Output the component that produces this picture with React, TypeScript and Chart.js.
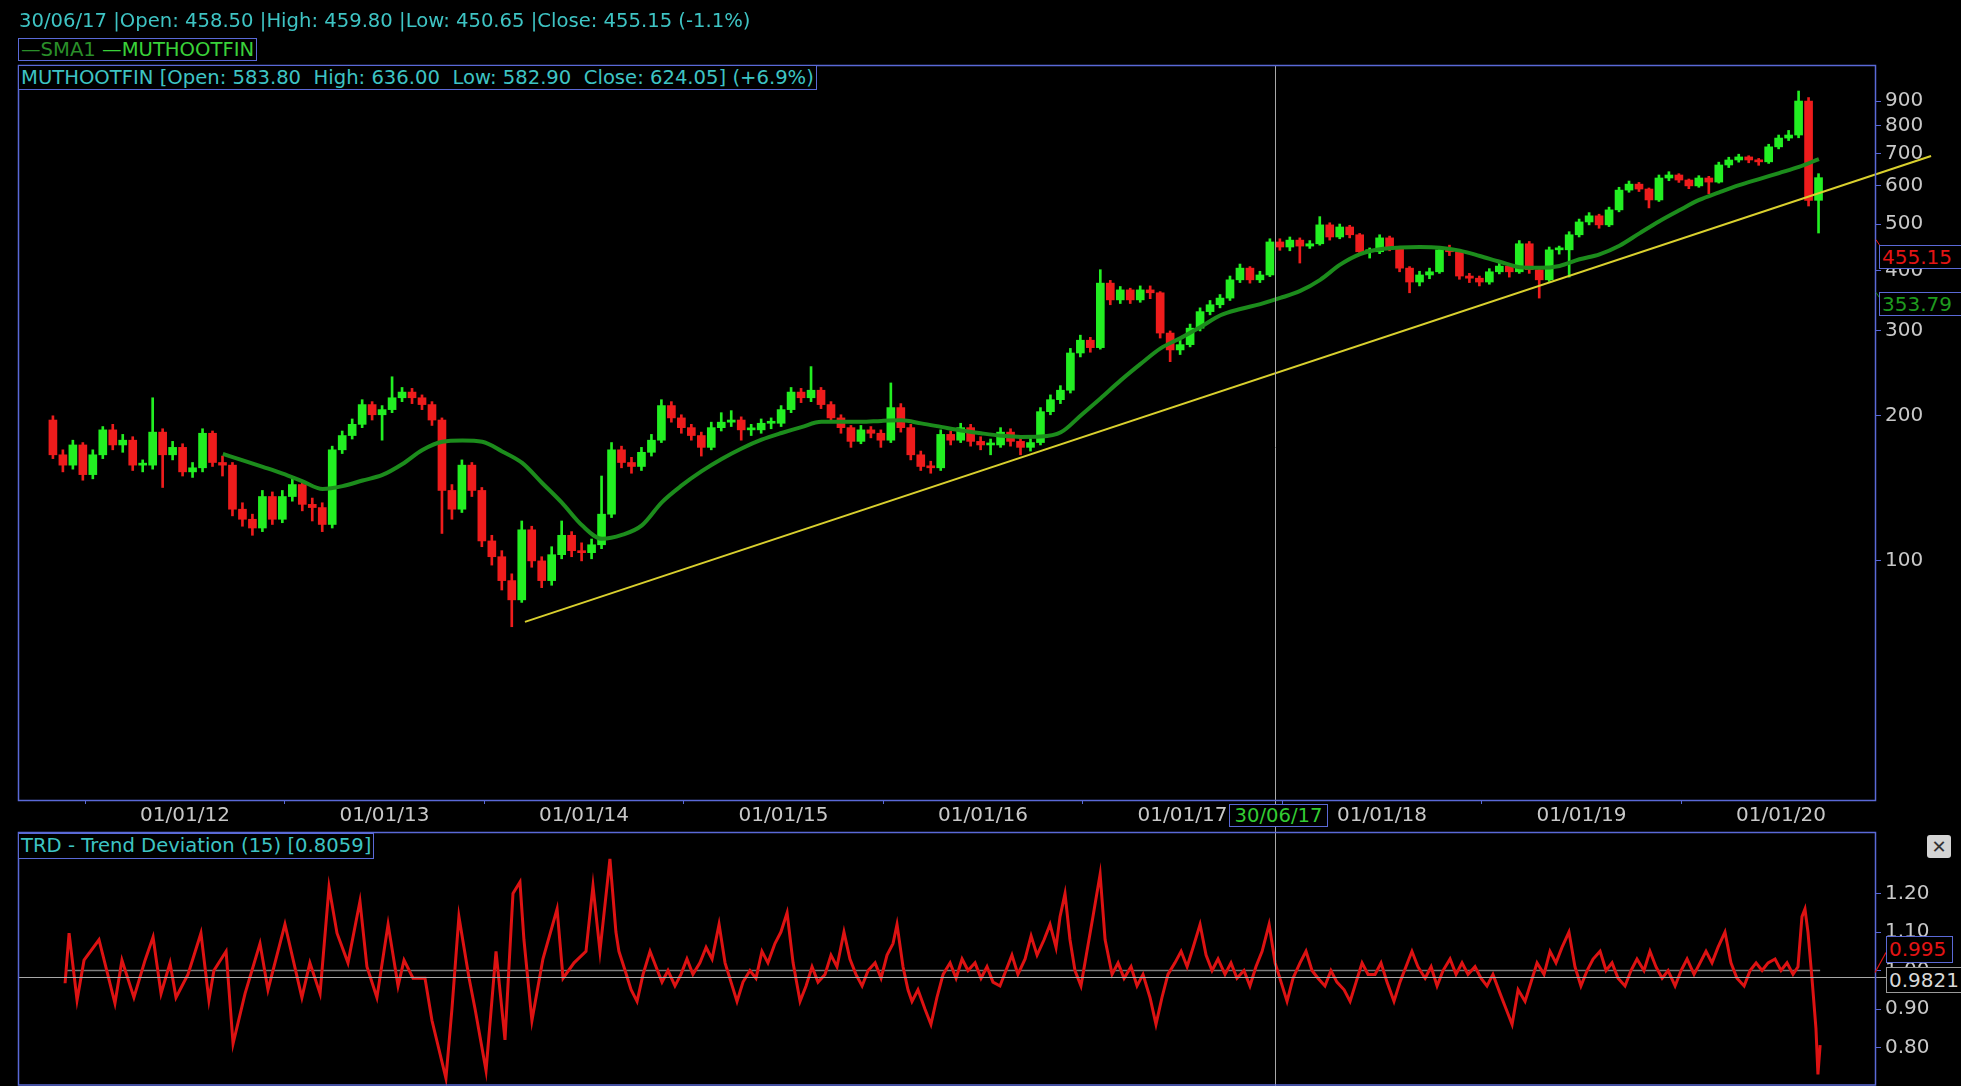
import React, { useEffect, useRef } from 'react';
import { Chart, registerables } from 'chart.js';

Chart.register(...registerables);

const W = 1961;
const H = 1086;
const MAIN_H = 830;
const FONT = '"DejaVu Sans", Verdana, sans-serif';
const BORDER = '#5a69d6';
const CYAN = '#3ec4c4';
const AXIS_TXT = '#c8c8c8';
const UP = '#22ee22';
const DOWN = '#ee1c1c';
const SMA_COLOR = '#1c8c1c';
const TREND_COLOR = '#d9d02e';
const TRD_COLOR = '#dd1212';
const CROSS = '#a8a8a8';

// ---------------- data ----------------
const HEADER_TEXT = '30/06/17 |Open: 458.50 |High: 459.80 |Low: 450.65 |Close: 455.15 (-1.1%)';
const TITLE_TEXT = 'MUTHOOTFIN [Open: 583.80  High: 636.00  Low: 582.90  Close: 624.05] (+6.9%)';
const TRD_TITLE = 'TRD - Trend Deviation (15) [0.8059]';
const CROSS_LABEL = '30/06/17';

const CANDLE_START = 2011.338; // decimal year of first candle
const CANDLE_STEP = 0.05; // half-month-ish sampling

const OPEN = [
  196, 166, 158, 174, 151, 166, 187, 174, 178, 158,
  158, 185, 166, 172, 153, 156, 184, 160, 158, 128,
  122, 117, 136, 122, 136, 144, 131, 129, 119, 170,
  182, 192, 211, 201, 206, 218, 224, 218, 211, 196,
  140, 128, 158, 140, 110, 102, 91, 83, 116, 100,
  91, 103, 113, 105, 104, 108, 125, 170, 160, 157,
  168, 178, 210, 198, 189, 182, 172, 189, 194, 196,
  187, 187, 193, 193, 206, 224, 218, 226, 211, 198,
  189, 177, 187, 184, 178, 208, 189, 166, 157, 156,
  183, 178, 189, 177, 174, 174, 185, 177, 172, 176,
  204, 216, 226, 270, 287, 277, 377, 348, 365, 348,
  365, 360, 297, 274, 281, 304, 329, 340, 351, 383,
  405, 383, 392, 459, 448, 463, 450, 455, 498, 470,
  493, 475, 438, 438, 468, 446, 405, 379, 392, 398,
  442, 438, 390, 386, 379, 398, 409, 398, 455, 402,
  383, 442, 442, 475, 505, 520, 498, 535, 588, 605,
  591, 561, 623, 632, 617, 600, 623, 611, 663, 679,
  689, 679, 673, 723, 754, 765, 900, 560,
];
const HIGH = [
  200, 170, 178, 176, 170, 190, 192, 183, 181, 162,
  218, 188, 177, 175, 160, 188, 186, 165, 160, 132,
  125, 140, 139, 140, 149, 146, 135, 132, 173, 186,
  197, 216, 214, 210, 241, 229, 228, 221, 214, 198,
  144, 162, 160, 142, 113, 105, 94, 121, 118, 102,
  107, 121, 115, 109, 111, 150, 176, 173, 164, 172,
  183, 216, 214, 201, 192, 185, 194, 203, 205, 199,
  192, 197, 198, 210, 229, 228, 253, 229, 214, 201,
  191, 191, 190, 187, 234, 212, 192, 169, 161, 187,
  186, 193, 192, 181, 179, 189, 188, 180, 180, 208,
  221, 231, 276, 294, 291, 402, 382, 371, 368, 372,
  372, 362, 300, 287, 310, 335, 347, 357, 390, 413,
  408, 399, 466, 466, 470, 468, 462, 518, 503, 500,
  497, 478, 446, 475, 472, 449, 408, 399, 405, 448,
  452, 441, 395, 390, 404, 416, 412, 462, 460, 405,
  448, 450, 482, 512, 528, 524, 542, 596, 614, 610,
  594, 632, 642, 636, 620, 630, 628, 672, 688, 698,
  693, 684, 732, 765, 782, 944, 915, 636,
];
const LOW = [
  163, 153, 155, 147, 148, 163, 170, 168, 154, 153,
  155, 142, 162, 150, 149, 153, 157, 150, 124, 118,
  113, 115, 119, 120, 133, 127, 121, 115, 117, 167,
  179, 189, 196, 178, 203, 214, 212, 206, 191, 114,
  122, 126, 136, 107, 98, 87, 73, 82, 97, 88,
  89, 101, 102, 100, 101, 106, 123, 156, 152, 154,
  165, 176, 194, 184, 178, 165, 170, 186, 190, 178,
  182, 184, 188, 190, 203, 213, 214, 207, 194, 184,
  172, 175, 180, 172, 176, 185, 162, 154, 152, 154,
  174, 176, 173, 170, 166, 172, 173, 166, 169, 174,
  201, 212, 223, 265, 271, 275, 340, 342, 342, 344,
  350, 290, 259, 268, 278, 300, 324, 335, 347, 378,
  377, 378, 389, 441, 440, 415, 445, 452, 463, 466,
  468, 430, 425, 434, 440, 398, 360, 372, 385, 395,
  430, 384, 378, 372, 375, 394, 388, 395, 395, 351,
  380, 433, 388, 470, 498, 490, 494, 530, 582, 584,
  540, 557, 615, 610, 592, 596, 578, 608, 655, 672,
  670, 662, 668, 716, 745, 755, 545, 479,
];
const CLOSE = [
  166, 158, 174, 151, 166, 187, 174, 178, 158, 158,
  185, 166, 172, 153, 156, 184, 160, 158, 128, 122,
  117, 136, 122, 136, 144, 131, 129, 119, 170, 182,
  192, 211, 201, 206, 218, 224, 218, 211, 196, 140,
  128, 158, 140, 110, 102, 91, 83, 116, 100, 91,
  103, 113, 105, 104, 108, 125, 170, 160, 157, 168,
  178, 210, 198, 189, 182, 172, 189, 194, 196, 187,
  187, 193, 193, 206, 224, 218, 226, 211, 198, 189,
  177, 187, 184, 178, 208, 189, 166, 157, 156, 183,
  178, 189, 177, 174, 174, 185, 177, 172, 176, 204,
  216, 226, 270, 287, 277, 377, 348, 365, 348, 365,
  360, 297, 274, 281, 304, 329, 340, 351, 383, 405,
  383, 392, 459, 448, 463, 450, 455, 498, 470, 493,
  475, 438, 438, 468, 446, 405, 379, 392, 398, 442,
  438, 390, 386, 379, 398, 409, 398, 455, 402, 383,
  442, 442, 475, 505, 520, 498, 535, 588, 605, 591,
  561, 623, 632, 617, 600, 623, 611, 663, 679, 689,
  679, 673, 723, 754, 765, 900, 560, 624,
];

const SMA_START = 2012.19;
const SMA_STEP = 0.1;
const SMA1 = [
  166.7, 161.7, 156.7, 151.7, 146.2, 141.0, 142.9, 146.8, 150.8, 158.9,
  169.9, 176.7, 177.7, 176.7, 168.7, 159.7, 145.1, 131.9, 118.5, 111.1,
  113.2, 118.5, 132.3, 143.4, 153.5, 162.7, 171.1, 178.4, 184.2, 189.5,
  194.3, 194.3, 194.3, 195.2, 195.7, 192.9, 189.7, 186.5, 184.0, 181.9,
  180.8, 181.1, 184.8, 200.3, 217.6, 236.9, 256.3, 276.0, 289.9, 305.6,
  323.3, 333.1, 341.1, 351.2, 363.2, 382.9, 411.8, 433.1, 443.2, 446.8,
  447.9, 446.6, 440.4, 429.2, 417.5, 406.9, 405.6, 409.3, 422.5, 432.7,
  450.8, 478.2, 506.9, 534.0, 561.0, 581.7, 602.0, 619.8, 637.9, 656.7,
  682.0,
];

const TREND = [
  [2013.704, 74.7],
  [2020.752, 692],
];

// [date (decimal year), TRD value]
const TRD = [
  [2011.399, 0.967], [2011.419, 1.097], [2011.459, 0.923], [2011.494, 1.027], [2011.569, 1.08],
  [2011.649, 0.915], [2011.684, 1.027], [2011.744, 0.93], [2011.8, 1.027], [2011.84, 1.087],
  [2011.88, 0.94], [2011.925, 1.02], [2011.955, 0.93], [2012.015, 0.99], [2012.08, 1.097],
  [2012.12, 0.923], [2012.145, 1.0], [2012.206, 1.05], [2012.241, 0.81], [2012.301, 0.94],
  [2012.376, 1.07], [2012.416, 0.95], [2012.501, 1.12], [2012.586, 0.93], [2012.626, 1.02],
  [2012.677, 0.94], [2012.722, 1.217], [2012.762, 1.097], [2012.817, 1.02], [2012.877, 1.18],
  [2012.912, 1.01], [2012.962, 0.93], [2013.018, 1.12], [2013.068, 0.96], [2013.098, 1.027],
  [2013.143, 0.98], [2013.203, 0.98], [2013.238, 0.87], [2013.308, 0.72], [2013.338, 0.9],
  [2013.373, 1.14], [2013.424, 0.98], [2013.454, 0.9], [2013.509, 0.74], [2013.559, 1.05],
  [2013.604, 0.82], [2013.644, 1.2], [2013.679, 1.23], [2013.699, 1.08], [2013.739, 0.87],
  [2013.794, 1.03], [2013.865, 1.16], [2013.895, 0.98], [2013.95, 1.02], [2014.01, 1.05],
  [2014.045, 1.22], [2014.08, 1.05],
  [2014.13, 1.29], [2014.16, 1.1], [2014.175, 1.05], [2014.206, 1.0], [2014.236, 0.95],
  [2014.266, 0.92], [2014.296, 0.99], [2014.331, 1.05], [2014.361, 1.01], [2014.391, 0.97],
  [2014.421, 1.0], [2014.456, 0.96], [2014.486, 0.99], [2014.516, 1.03], [2014.546, 0.99],
  [2014.581, 1.02], [2014.612, 1.06], [2014.642, 1.03], [2014.677, 1.12], [2014.707, 1.02],
  [2014.737, 0.97], [2014.767, 0.92], [2014.797, 0.97], [2014.832, 1.0], [2014.862, 0.98],
  [2014.892, 1.05], [2014.922, 1.02], [2014.957, 1.07], [2014.987, 1.1], [2015.018, 1.15],
  [2015.048, 1.02], [2015.083, 0.92], [2015.113, 0.96], [2015.143, 1.01], [2015.173, 0.97],
  [2015.208, 0.99], [2015.238, 1.04], [2015.268, 1.01], [2015.303, 1.1], [2015.333, 1.03],
  [2015.363, 0.99], [2015.394, 0.96], [2015.424, 1.0], [2015.459, 1.02], [2015.489, 0.98],
  [2015.519, 1.04], [2015.549, 1.07], [2015.569, 1.12], [2015.599, 1.01], [2015.624, 0.95],
  [2015.644, 0.92], [2015.674, 0.95], [2015.709, 0.9], [2015.739, 0.86], [2015.769, 0.93],
  [2015.8, 0.99], [2015.835, 1.02], [2015.865, 0.98], [2015.895, 1.03], [2015.925, 1.0],
  [2015.96, 1.02], [2015.99, 0.98], [2016.02, 1.01], [2016.05, 0.97], [2016.085, 0.96],
  [2016.115, 1.0], [2016.145, 1.04], [2016.175, 0.99], [2016.211, 1.03], [2016.241, 1.09],
  [2016.271, 1.04], [2016.306, 1.08], [2016.336, 1.12], [2016.366, 1.06], [2016.386, 1.14],
  [2016.411, 1.2], [2016.436, 1.08], [2016.461, 1.0], [2016.491, 0.96], [2016.521, 1.05],
  [2016.551, 1.14], [2016.587, 1.25], [2016.612, 1.08], [2016.647, 0.99], [2016.677, 1.02],
  [2016.707, 0.98], [2016.742, 1.01], [2016.772, 0.96], [2016.802, 0.99], [2016.837, 0.93],
  [2016.867, 0.86], [2016.897, 0.93], [2016.927, 0.99], [2016.962, 1.02], [2016.993, 1.05],
  [2017.023, 1.01], [2017.053, 1.06], [2017.088, 1.12], [2017.118, 1.04], [2017.148, 1.0],
  [2017.178, 1.03], [2017.213, 0.99], [2017.243, 1.02], [2017.273, 0.98], [2017.308, 1.0],
  [2017.338, 0.96], [2017.368, 1.01], [2017.399, 1.05], [2017.434, 1.12], [2017.464, 1.02],
  [2017.494, 0.97], [2017.524, 0.92], [2017.554, 0.98], [2017.589, 1.02], [2017.619, 1.05],
  [2017.649, 1.0], [2017.679, 0.98], [2017.714, 0.96], [2017.744, 1.0], [2017.774, 0.97],
  [2017.81, 0.95], [2017.84, 0.92], [2017.87, 0.97], [2017.9, 1.02], [2017.93, 0.99],
  [2017.965, 0.99], [2017.995, 1.02], [2018.025, 0.97], [2018.06, 0.92], [2018.09, 0.97],
  [2018.12, 1.01], [2018.15, 1.05], [2018.18, 1.01], [2018.216, 0.98], [2018.246, 1.01],
  [2018.276, 0.96], [2018.306, 1.0], [2018.341, 1.03], [2018.371, 0.99], [2018.401, 1.02],
  [2018.431, 0.99], [2018.466, 1.01], [2018.496, 0.98], [2018.526, 0.96], [2018.556, 0.99],
  [2018.592, 0.94], [2018.622, 0.9], [2018.652, 0.86], [2018.682, 0.95], [2018.717, 0.92],
  [2018.747, 0.97], [2018.777, 1.02], [2018.812, 0.99], [2018.842, 1.05], [2018.872, 1.02],
  [2018.902, 1.06], [2018.937, 1.1], [2018.967, 1.01], [2018.997, 0.96], [2019.028, 1.0],
  [2019.058, 1.03], [2019.093, 1.05], [2019.123, 1.0], [2019.153, 1.02], [2019.183, 0.98],
  [2019.218, 0.96], [2019.248, 1.0], [2019.278, 1.03], [2019.313, 1.0], [2019.343, 1.05],
  [2019.373, 1.01], [2019.404, 0.98], [2019.434, 1.0], [2019.469, 0.96], [2019.499, 1.0],
  [2019.529, 1.03], [2019.564, 0.99], [2019.594, 1.02], [2019.624, 1.05], [2019.654, 1.02],
  [2019.684, 1.06], [2019.719, 1.1], [2019.749, 1.02], [2019.779, 0.98], [2019.815, 0.96],
  [2019.845, 1.0], [2019.875, 1.02], [2019.905, 1.0], [2019.935, 1.02], [2019.97, 1.03],
  [2020.0, 1.0], [2020.03, 1.02], [2020.06, 0.99], [2020.085, 1.01], [2020.105, 1.14],
  [2020.12, 1.16], [2020.135, 1.1], [2020.155, 0.98], [2020.175, 0.85], [2020.185, 0.73],
  [2020.196, 0.806],
];
const TRD_BASE = 1.0;

const CROSS_DATE = 2017.466;
const CROSS_TRD = 0.9821;
const TRD_AT_CROSS = 0.995;
const CLOSE_AT_CROSS = 455.15;
const SMA_AT_CROSS = 353.79;

const X_MIN = 2011.163;
const X_MAX = 2020.471;
const Y_MIN = 31.9;
const Y_MAX = 1069;
const YEAR_TICKS = [2012, 2013, 2014, 2015, 2016, 2017, 2018, 2019, 2020];
const PRICE_TICKS = [100, 200, 300, 400, 500, 600, 700, 800, 900];
const TRD_MIN = 0.7;
const TRD_MAX = 1.36;
const TRD_TICKS = [0.8, 0.9, 1.0, 1.1, 1.2];

// ---------------- component ----------------
const tickFont = { family: FONT, size: 20 };

function boxStyle(extra: any): any {
  return {
    position: 'absolute',
    boxSizing: 'border-box',
    border: `1px solid ${BORDER}`,
    background: '#000',
    fontFamily: FONT,
    fontSize: 19.6,
    whiteSpace: 'pre',
    padding: '0 2px',
    ...extra,
  };
}

function fixVertical(s: any) {
  s.width = W - 1875;
  s.paddingTop = 0;
  s.paddingBottom = 0;
}

export default function App() {
  const mainRef = useRef<HTMLCanvasElement>(null);
  const trdRef = useRef<HTMLCanvasElement>(null);

  useEffect(() => {
    const dates = CLOSE.map((_, i) => +(CANDLE_START + i * CANDLE_STEP).toFixed(4));
    const colors = CLOSE.map((c, i) => (c >= OPEN[i] ? UP : DOWN));
    const smaDates = SMA1.map((_, i) => +(SMA_START + i * SMA_STEP).toFixed(4));

    const mainDecor = {
      id: 'mainDecor',
      afterDraw(chart: any) {
        const { ctx, chartArea: a, scales } = chart;
        const x = scales.x;
        const y = scales.y;
        ctx.save();
        const cx = Math.round(x.getPixelForValue(CROSS_DATE)) + 0.5;
        ctx.strokeStyle = CROSS;
        ctx.lineWidth = 1;
        ctx.beginPath();
        ctx.moveTo(cx, a.top);
        ctx.lineTo(cx, chart.height);
        ctx.stroke();
        ctx.strokeStyle = BORDER;
        ctx.lineWidth = 1.5;
        ctx.strokeRect(a.left + 0.5, a.top + 0.5, a.right - a.left, a.bottom - a.top);
        const yc = y.getPixelForValue(CLOSE_AT_CROSS);
        ctx.strokeStyle = DOWN;
        ctx.lineWidth = 1;
        ctx.beginPath();
        ctx.moveTo(a.right + 1, yc - 4);
        ctx.lineTo(a.right + 9, yc + 8);
        ctx.stroke();
        const ys = y.getPixelForValue(SMA_AT_CROSS);
        ctx.strokeStyle = SMA_COLOR;
        ctx.beginPath();
        ctx.moveTo(a.right + 1, ys - 4);
        ctx.lineTo(a.right + 9, ys + 8);
        ctx.stroke();
        ctx.restore();
      },
    };

    const main = new Chart(mainRef.current as HTMLCanvasElement, {
      type: 'bar',
      data: {
        datasets: [
          {
            type: 'bar',
            label: 'wick',
            data: dates.map((d, i) => ({ x: d, y: [LOW[i], HIGH[i]] })),
            backgroundColor: colors,
            barThickness: 2,
            grouped: false,
            order: 4,
          } as any,
          {
            type: 'bar',
            label: 'MUTHOOTFIN',
            data: dates.map((d, i) => ({ x: d, y: [OPEN[i], CLOSE[i]] })),
            backgroundColor: colors,
            barThickness: 8,
            minBarLength: 2,
            grouped: false,
            order: 3,
          } as any,
          {
            type: 'line',
            label: 'SMA1',
            data: smaDates.map((d, i) => ({ x: d, y: SMA1[i] })),
            borderColor: SMA_COLOR,
            borderWidth: 4,
            pointRadius: 0,
            cubicInterpolationMode: 'monotone',
            order: 2,
          } as any,
          {
            type: 'line',
            label: 'trend',
            data: TREND.map((p) => ({ x: p[0], y: p[1] })),
            borderColor: TREND_COLOR,
            borderWidth: 2,
            pointRadius: 0,
            clip: false,
            order: 1,
          } as any,
        ],
      },
      options: {
        responsive: false,
        animation: false,
        devicePixelRatio: 1,
        layout: { padding: { left: 18, top: 65, right: 0, bottom: 0 } },
        plugins: { legend: { display: false }, tooltip: { enabled: false } },
        scales: {
          x: {
            type: 'linear',
            min: X_MIN,
            max: X_MAX,
            offset: false,
            afterBuildTicks: (s: any) => {
              s.ticks = YEAR_TICKS.map((v) => ({ value: v }));
            },
            afterFit: (s: any) => {
              s.height = 30;
            },
            ticks: {
              autoSkip: false,
              maxRotation: 0,
              minRotation: 0,
              padding: 0,
              color: AXIS_TXT,
              font: tickFont,
              callback: (v: any) => '01/01/' + String(v).slice(2),
            },
            grid: { drawOnChartArea: false, drawTicks: true, tickLength: 4, color: BORDER },
            border: { display: false },
          },
          y: {
            type: 'logarithmic',
            position: 'right',
            min: Y_MIN,
            max: Y_MAX,
            afterBuildTicks: (s: any) => {
              s.ticks = PRICE_TICKS.map((v) => ({ value: v }));
            },
            afterFit: fixVertical,
            ticks: {
              autoSkip: false,
              padding: 4,
              color: AXIS_TXT,
              font: tickFont,
              callback: (v: any) => String(v),
            },
            grid: { drawOnChartArea: false, drawTicks: true, tickLength: 6, color: BORDER },
            border: { display: false },
          },
        },
      } as any,
      plugins: [mainDecor],
    });

    const trdDecor = {
      id: 'trdDecor',
      afterDraw(chart: any) {
        const { ctx, chartArea: a, scales } = chart;
        const x = scales.x;
        const y = scales.y;
        ctx.save();
        const hy = Math.round(y.getPixelForValue(CROSS_TRD)) + 0.5;
        ctx.strokeStyle = CROSS;
        ctx.lineWidth = 1;
        ctx.beginPath();
        ctx.moveTo(a.left, hy);
        ctx.lineTo(1886, hy);
        ctx.stroke();
        const cx = Math.round(x.getPixelForValue(CROSS_DATE)) + 0.5;
        ctx.beginPath();
        ctx.moveTo(cx, 0);
        ctx.lineTo(cx, chart.height);
        ctx.stroke();
        ctx.strokeStyle = BORDER;
        ctx.lineWidth = 1.5;
        ctx.strokeRect(a.left + 0.5, a.top + 0.5, a.right - a.left, a.bottom - a.top - 1.5);
        const yv = y.getPixelForValue(TRD_AT_CROSS);
        ctx.strokeStyle = TRD_COLOR;
        ctx.lineWidth = 1.2;
        ctx.beginPath();
        ctx.moveTo(a.right, yv);
        ctx.lineTo(1886, yv - 20);
        ctx.stroke();
        ctx.restore();
      },
    };

    const trd = new Chart(trdRef.current as HTMLCanvasElement, {
      type: 'line',
      data: {
        datasets: [
          {
            label: 'TRD',
            data: TRD.map((p) => ({ x: p[0], y: p[1] })),
            borderColor: TRD_COLOR,
            borderWidth: 3,
            pointRadius: 0,
            tension: 0,
            order: 1,
          },
          {
            label: 'base',
            data: [
              { x: TRD[0][0], y: TRD_BASE },
              { x: TRD[TRD.length - 1][0], y: TRD_BASE },
            ],
            borderColor: '#7c7c7c',
            borderWidth: 1.5,
            pointRadius: 0,
            order: 2,
          },
        ],
      },
      options: {
        responsive: false,
        animation: false,
        devicePixelRatio: 1,
        layout: { padding: { left: 18, top: 2, right: 0, bottom: 0 } },
        plugins: { legend: { display: false }, tooltip: { enabled: false } },
        scales: {
          x: { type: 'linear', min: X_MIN, max: X_MAX, display: false },
          y: {
            type: 'linear',
            position: 'right',
            min: TRD_MIN,
            max: TRD_MAX,
            afterBuildTicks: (s: any) => {
              s.ticks = TRD_TICKS.map((v) => ({ value: v }));
            },
            afterFit: fixVertical,
            ticks: {
              autoSkip: false,
              padding: 4,
              color: AXIS_TXT,
              font: tickFont,
              callback: (v: any) => Number(v).toFixed(2),
            },
            grid: { drawOnChartArea: false, drawTicks: true, tickLength: 6, color: BORDER },
            border: { display: false },
          },
        },
      } as any,
      plugins: [trdDecor],
    });

    return () => {
      main.destroy();
      trd.destroy();
    };
  }, []);

  return (
    <div
      style={{
        position: 'fixed',
        left: 0,
        top: 0,
        width: W,
        height: H,
        background: '#000',
        overflow: 'hidden',
        fontFamily: FONT,
      }}
    >
      <canvas ref={mainRef} width={W} height={MAIN_H} style={{ position: 'absolute', left: 0, top: 0 }} />
      <canvas ref={trdRef} width={W} height={H - MAIN_H} style={{ position: 'absolute', left: 0, top: MAIN_H }} />

      <div style={{ position: 'absolute', left: 19, top: 9, color: CYAN, fontSize: 19.6, lineHeight: '24px', whiteSpace: 'pre' }}>
        {HEADER_TEXT}
      </div>
      <div style={boxStyle({ left: 18, top: 38, height: 23, lineHeight: '21px' })}>
        <span style={{ color: '#2a8f2a' }}>—SMA1</span>
        <span style={{ color: '#3ad23a' }}> —MUTHOOTFIN</span>
      </div>
      <div style={boxStyle({ left: 18, top: 65, height: 25, lineHeight: '23px', color: CYAN })}>{TITLE_TEXT}</div>

      <div style={boxStyle({ left: 1229, top: 804, width: 99, height: 23, lineHeight: '21px', color: '#33cc33', textAlign: 'center', padding: 0 })}>
        {CROSS_LABEL}
      </div>
      <div style={boxStyle({ left: 1879, top: 245, width: 100, height: 24, lineHeight: '22px', color: '#e41414', fontSize: 20 })}>
        {CLOSE_AT_CROSS.toFixed(2)}
      </div>
      <div style={boxStyle({ left: 1879, top: 292, width: 100, height: 24, lineHeight: '22px', color: '#1f9a1f', fontSize: 20 })}>
        {SMA_AT_CROSS.toFixed(2)}
      </div>

      <div style={boxStyle({ left: 18, top: 833, height: 26, lineHeight: '24px', color: CYAN })}>{TRD_TITLE}</div>
      <div style={boxStyle({ left: 1886, top: 936, width: 67, height: 27, lineHeight: '25px', color: '#e41414', fontSize: 20 })}>
        {TRD_AT_CROSS.toFixed(3)}
      </div>
      <div
        style={boxStyle({
          left: 1886,
          top: 967,
          width: 90,
          height: 26,
          lineHeight: '24px',
          color: '#d8d8d8',
          border: '1px solid #9a9a9a',
          fontSize: 20,
        })}
      >
        {CROSS_TRD.toFixed(4)}
      </div>
      <div
        style={{
          position: 'absolute',
          left: 1927,
          top: 835,
          width: 24,
          height: 23,
          background: '#d4d4d4',
          borderRadius: 3,
          color: '#333',
          fontSize: 18,
          lineHeight: '23px',
          textAlign: 'center',
          fontFamily: FONT,
        }}
      >
        ✕
      </div>
    </div>
  );
}
